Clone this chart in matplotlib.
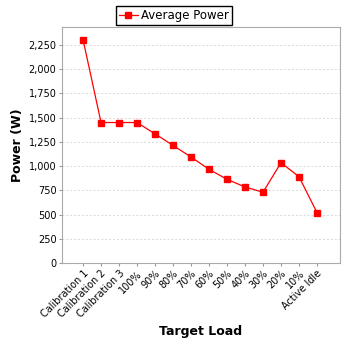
import matplotlib
matplotlib.use("Agg")
import matplotlib.pyplot as plt
from matplotlib.ticker import FuncFormatter, MultipleLocator

loads = ["Calibration 1", "Calibration 2", "Calibration 3", "100%", "90%", "80%",
         "70%", "60%", "50%", "40%", "30%", "20%", "10%", "Active Idle"]
avg_power = [2305, 1450, 1450, 1450, 1333, 1214, 1094, 967, 864, 785, 730, 1035, 891, 521]

fig = plt.figure(figsize=(3.48, 3.48), dpi=100)
ax = fig.add_axes([62 / 348, 1 - 263 / 348, 278 / 348, 236 / 348])

x = list(range(len(loads)))
ax.plot(x, avg_power, color="#ff0000", lw=0.9, marker="s", ms=4.5,
        mfc="#ff0000", mec="#ff0000", label="Average Power")

ax.set_xlim(-1.17, len(loads) - 1 + 1.28)
ax.set_ylim(0, 2436)
ax.yaxis.set_major_locator(MultipleLocator(250))
ax.yaxis.set_major_formatter(FuncFormatter(lambda v, p: f"{int(v):,}"))
ax.grid(axis="y", color="#d8d8d8", ls=(0, (2, 2)), lw=0.7)
ax.set_axisbelow(True)

ax.set_xticks(x)
ax.set_xticklabels(loads, rotation=45, ha="right", rotation_mode="anchor", fontsize=7)
ax.tick_params(axis="y", labelsize=7, length=2, color="#999999", pad=2)
ax.tick_params(axis="x", length=2, color="#999999", pad=2)
for s in ax.spines.values():
    s.set_color("#aaaaaa")

ax.set_ylabel("Power (W)", fontsize=9, fontweight="bold", labelpad=3)
ax.set_xlabel("Target Load", fontsize=9, fontweight="bold", labelpad=4)

fig.legend(loc="upper center", bbox_to_anchor=(174 / 348, 1.0), fontsize=8.5,
           fancybox=False, edgecolor="black", framealpha=1, handlelength=1.6,
           borderpad=0.25, handletextpad=0.3)

fig.savefig("out.png", dpi=100)
